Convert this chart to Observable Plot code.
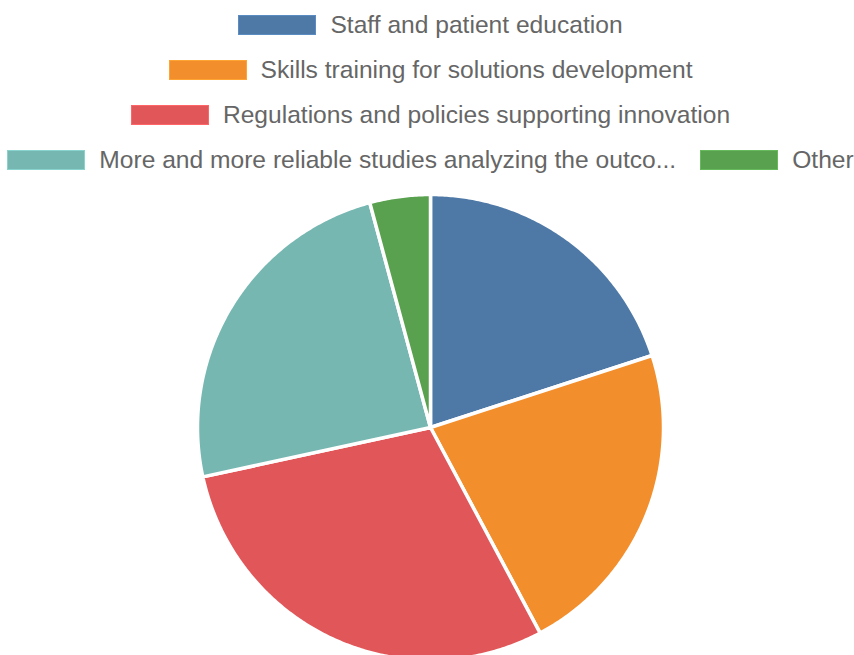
<!DOCTYPE html>
<html>
<head>
<meta charset="utf-8">
<script src="https://cdn.jsdelivr.net/npm/d3@7"></script>
<script src="https://cdn.jsdelivr.net/npm/@observablehq/plot@0.6"></script>
<style>
  html, body { margin: 0; padding: 0; background: #fff; width: 854px; height: 655px; overflow: hidden; }
  #legend { height: 180px; padding-top: 2px; box-sizing: border-box; width: 861px; font-family: "Liberation Sans", Arial, Helvetica, sans-serif; font-size: 24.6px; color: #666; }
  .row { height: 45px; display: flex; justify-content: center; align-items: center; white-space: nowrap; gap: 24px; }
  .item { display: flex; align-items: center; flex: none; }
  .sw { width: 76px; height: 18px; border: 1px solid; margin-right: 14px; box-sizing: content-box; }
  #chart svg { display: block; overflow: visible; }
</style>
</head>
<body>
<div id="legend"></div>
<div id="chart"></div>
<script>
const categories = [
  "Staff and patient education",
  "Skills training for solutions development",
  "Regulations and policies supporting innovation",
  "More and more reliable studies analyzing the outco...",
  "Other"
];
const values = [20, 22.2, 29.4, 24.2, 4.2];
const colors = ["#4e79a7", "#f28e2c", "#e15759", "#76b7b2", "#59a14f"];
const legendRows = [[0], [1], [2], [3, 4]];

// legend
const legend = document.getElementById("legend");
for (const r of legendRows) {
  const row = document.createElement("div");
  row.className = "row";
  for (const i of r) {
    const it = document.createElement("div");
    it.className = "item";
    const sw = document.createElement("div");
    sw.className = "sw";
    sw.style.background = colors[i];
    sw.style.borderColor = d3.color(colors[i]).brighter(0.4).formatHex();
    const tx = document.createElement("span");
    tx.textContent = categories[i];
    it.appendChild(sw);
    it.appendChild(tx);
    row.appendChild(it);
  }
  legend.appendChild(row);
}

// pie geometry in data space (unit circle), angles from d3.pie
const arcs = d3.pie().sort(null).value(d => d)(values);
const pts = [];
arcs.forEach((a, i) => {
  const cat = categories[i];
  pts.push({x: 0, y: 0, category: cat});
  const n = Math.max(2, Math.ceil((a.endAngle - a.startAngle) / (Math.PI / 360)));
  for (let k = 0; k <= n; k++) {
    const t = a.startAngle + (a.endAngle - a.startAngle) * k / n;
    pts.push({x: Math.sin(t), y: Math.cos(t), category: cat});
  }
  pts.push({x: 0, y: 0, category: cat});
});

const cx = 430, cy = 247, r = 233;
const plot = Plot.plot({
  width: 854,
  height: 475,
  x: {domain: [-1, 1], range: [cx - r, cx + r], axis: null},
  y: {domain: [-1, 1], range: [cy + r, cy - r], axis: null},
  color: {domain: categories, range: colors},
  marks: [
    Plot.line(pts, {x: "x", y: "y", z: "category", fill: "category", stroke: "white", strokeWidth: 3.5, strokeLinejoin: "round"})
  ]
});
document.getElementById("chart").appendChild(plot);
</script>
</body>
</html>
